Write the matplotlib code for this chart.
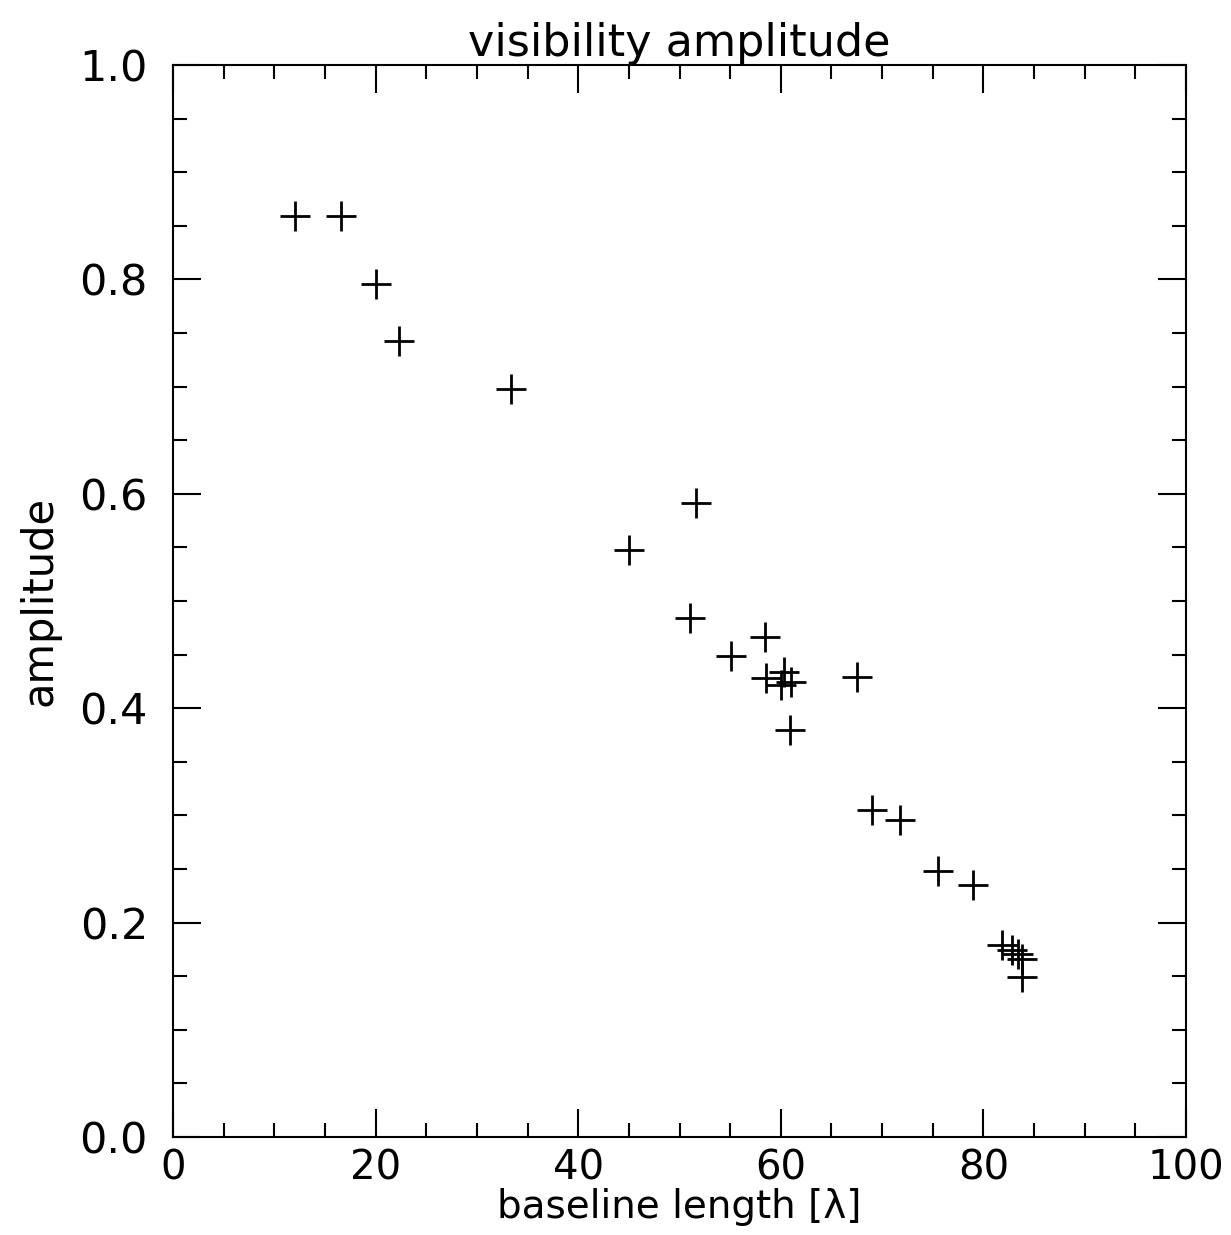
import numpy as np
import matplotlib.pyplot as plt
from matplotlib.ticker import MultipleLocator

# baseline length [lambda] and visibility amplitude
baseline = [12.0, 16.6, 20.0, 22.3, 33.4, 45.0, 51.6, 51.0, 55.1, 58.4,
            58.5, 60.3, 60.0, 61.0, 67.5, 60.9, 69.0, 71.8, 75.5,
            79.0, 81.8, 82.8, 83.4, 83.8, 83.8]
amplitude = [0.859, 0.859, 0.796, 0.743, 0.698, 0.548, 0.591, 0.484, 0.449, 0.466,
             0.428, 0.434, 0.422, 0.424, 0.429, 0.380, 0.305, 0.296, 0.248,
             0.235, 0.179, 0.174, 0.171, 0.166, 0.149]

fig = plt.figure(figsize=(12.31, 12.35), dpi=100)
ax = fig.add_axes([173 / 1231, 1 - 1137 / 1235, (1186 - 173) / 1231, (1137 - 65) / 1235])

ax.plot(baseline, amplitude, linestyle='none', marker='+', markersize=22,
        markeredgewidth=2, color='black')

ax.set_xlim(0, 100)
ax.set_ylim(0, 1.0)
ax.xaxis.set_major_locator(MultipleLocator(20))
ax.xaxis.set_minor_locator(MultipleLocator(5))
ax.yaxis.set_major_locator(MultipleLocator(0.2))
ax.yaxis.set_minor_locator(MultipleLocator(0.05))
ax.tick_params(which='both', direction='in', top=True, right=True, width=1.5,
               labelsize=31)
ax.tick_params(axis='x', pad=8, labelsize=29)
ax.tick_params(axis='y', pad=18)
ax.tick_params(which='major', length=20)
ax.tick_params(which='minor', length=10)
ax.set_xticklabels([f'{v:.0f}' for v in ax.get_xticks()])
ax.set_yticklabels([f'{v:.1f}' for v in ax.get_yticks()])
for s in ax.spines.values():
    s.set_linewidth(1.5)

ax.set_xlabel('baseline length [λ]', fontsize=28, labelpad=0)
ax.set_ylabel('amplitude', fontsize=30, labelpad=14)
ax.set_title('visibility amplitude', fontsize=32, pad=4)

fig.savefig('out.png', dpi=100)
